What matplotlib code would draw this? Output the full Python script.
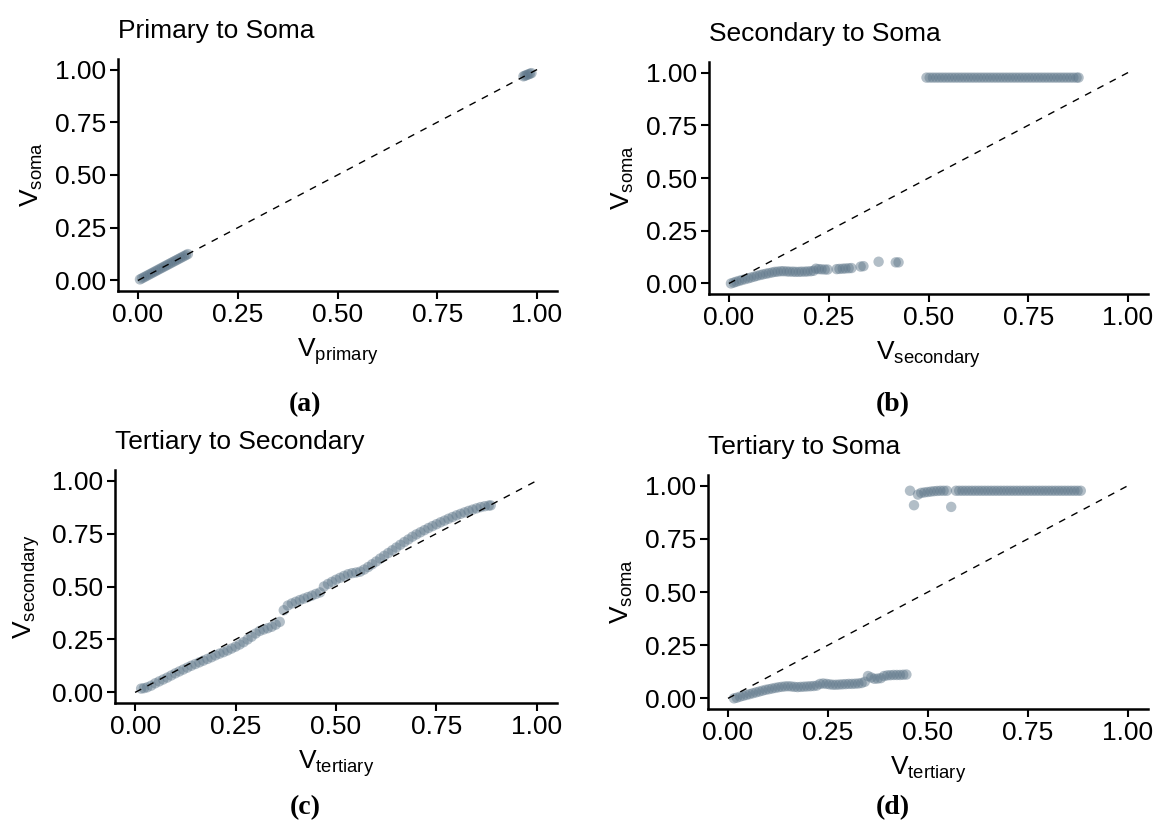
import numpy as np
import matplotlib
matplotlib.use("Agg")
import matplotlib.pyplot as plt

plt.rcParams['font.family'] = ['Liberation Sans', 'DejaVu Sans']
plt.rcParams['mathtext.default'] = 'regular'

# ---------------- data ----------------
# (a) Primary to Soma
a_x = [0.005, 0.010, 0.015, 0.020, 0.025, 0.030, 0.035, 0.040, 0.045, 0.050,
       0.055, 0.060, 0.065, 0.070, 0.075, 0.080, 0.085, 0.090, 0.095, 0.100,
       0.105, 0.110, 0.115, 0.120, 0.125, 0.966, 0.970, 0.974, 0.978, 0.982, 0.986]
a_y = [0.005, 0.010, 0.015, 0.020, 0.025, 0.030, 0.035, 0.040, 0.045, 0.050,
       0.055, 0.060, 0.065, 0.070, 0.075, 0.080, 0.085, 0.090, 0.095, 0.100,
       0.105, 0.110, 0.115, 0.120, 0.125, 0.968, 0.971, 0.974, 0.977, 0.980, 0.983]

# (b) Secondary to Soma
b_lo_x = [0.005, 0.012, 0.018, 0.025, 0.032, 0.040, 0.048, 0.055, 0.063, 0.070,
          0.078, 0.085, 0.093, 0.100, 0.108, 0.115, 0.122, 0.130, 0.137, 0.145,
          0.152, 0.160, 0.167, 0.175, 0.182, 0.190, 0.197, 0.205, 0.212, 0.218,
          0.225, 0.232, 0.240, 0.247, 0.270, 0.277, 0.285, 0.292, 0.300, 0.307,
          0.330, 0.337, 0.375, 0.418, 0.425]
b_lo_y = [0.000, 0.004, 0.008, 0.012, 0.016, 0.020, 0.024, 0.028, 0.032, 0.036,
          0.040, 0.043, 0.046, 0.049, 0.052, 0.055, 0.056, 0.058, 0.058, 0.057,
          0.056, 0.056, 0.055, 0.055, 0.056, 0.056, 0.057, 0.058, 0.060, 0.070,
          0.068, 0.067, 0.066, 0.066, 0.068, 0.069, 0.070, 0.071, 0.072, 0.073,
          0.080, 0.082, 0.103, 0.100, 0.100]
b_hi_x = [0.495, 0.503, 0.511, 0.519, 0.527, 0.535, 0.543, 0.551, 0.559, 0.567,
          0.575, 0.583, 0.591, 0.599, 0.607, 0.615, 0.623, 0.631, 0.639, 0.647,
          0.655, 0.663, 0.671, 0.679, 0.687, 0.695, 0.703, 0.711, 0.719, 0.727,
          0.735, 0.743, 0.751, 0.759, 0.767, 0.775, 0.783, 0.791, 0.799, 0.807,
          0.815, 0.823, 0.831, 0.839, 0.847, 0.855, 0.863, 0.871, 0.876]
b_hi_level = 0.976

# (c) Tertiary to Secondary
c_x = [0.015, 0.022, 0.030, 0.040, 0.050, 0.060, 0.070, 0.080, 0.090, 0.100,
       0.110, 0.120, 0.130, 0.140, 0.150, 0.160, 0.170, 0.180, 0.190, 0.200,
       0.210, 0.220, 0.230, 0.240, 0.250, 0.260, 0.270, 0.280, 0.290, 0.300,
       0.310, 0.320, 0.330, 0.340, 0.350, 0.360, 0.370, 0.380, 0.390, 0.400,
       0.410, 0.420, 0.430, 0.440, 0.450, 0.460, 0.470, 0.480, 0.490, 0.500,
       0.510, 0.520, 0.530, 0.540, 0.550, 0.560, 0.570, 0.580, 0.590, 0.600,
       0.610, 0.620, 0.630, 0.640, 0.650, 0.660, 0.670, 0.680, 0.690, 0.700,
       0.710, 0.720, 0.730, 0.740, 0.750, 0.760, 0.770, 0.780, 0.790, 0.800,
       0.810, 0.820, 0.830, 0.840, 0.850, 0.860, 0.870, 0.880, 0.885]
c_y = [0.018, 0.020, 0.024, 0.032, 0.043, 0.052, 0.061, 0.070, 0.080, 0.090,
       0.099, 0.108, 0.117, 0.126, 0.134, 0.142, 0.150, 0.158, 0.166, 0.175,
       0.183, 0.190, 0.198, 0.207, 0.216, 0.226, 0.237, 0.250, 0.263, 0.278,
       0.290, 0.297, 0.303, 0.310, 0.320, 0.333, 0.388, 0.410, 0.420, 0.428,
       0.436, 0.443, 0.450, 0.457, 0.465, 0.472, 0.500, 0.512, 0.522, 0.532,
       0.541, 0.550, 0.558, 0.563, 0.566, 0.570, 0.580, 0.592, 0.605, 0.618,
       0.632, 0.645, 0.658, 0.671, 0.684, 0.697, 0.710, 0.722, 0.735, 0.746,
       0.756, 0.766, 0.776, 0.785, 0.794, 0.803, 0.811, 0.820, 0.828, 0.836,
       0.843, 0.850, 0.857, 0.863, 0.869, 0.875, 0.879, 0.882, 0.883]

# (d) Tertiary to Soma
d_lo_x = [0.015, 0.022, 0.030, 0.038, 0.046, 0.054, 0.062, 0.070, 0.078, 0.086,
          0.094, 0.102, 0.110, 0.118, 0.126, 0.134, 0.142, 0.150, 0.158, 0.166,
          0.174, 0.182, 0.190, 0.198, 0.206, 0.214, 0.222, 0.230, 0.238, 0.246,
          0.254, 0.262, 0.270, 0.278, 0.286, 0.294, 0.302, 0.310, 0.318, 0.326,
          0.334, 0.342, 0.350, 0.358, 0.366, 0.374, 0.382, 0.390, 0.398, 0.406,
          0.414, 0.422, 0.430, 0.438, 0.446]
d_lo_y = [0.000, 0.003, 0.008, 0.012, 0.016, 0.020, 0.024, 0.028, 0.032, 0.036,
          0.040, 0.043, 0.046, 0.049, 0.052, 0.054, 0.056, 0.057, 0.056, 0.054,
          0.053, 0.054, 0.055, 0.056, 0.057, 0.058, 0.060, 0.068, 0.070, 0.068,
          0.066, 0.064, 0.064, 0.065, 0.066, 0.067, 0.068, 0.068, 0.069, 0.070,
          0.072, 0.078, 0.105, 0.098, 0.092, 0.093, 0.095, 0.105, 0.108, 0.109,
          0.110, 0.110, 0.110, 0.111, 0.112]
d_hi_x = [0.455, 0.465, 0.475, 0.483, 0.491, 0.499, 0.507, 0.515, 0.523, 0.531,
          0.539, 0.547, 0.558, 0.570, 0.578, 0.586, 0.594, 0.602, 0.610, 0.618,
          0.626, 0.634, 0.642, 0.650, 0.658, 0.666, 0.674, 0.682, 0.690, 0.698,
          0.706, 0.714, 0.722, 0.730, 0.738, 0.746, 0.754, 0.762, 0.770, 0.778,
          0.786, 0.794, 0.802, 0.810, 0.818, 0.826, 0.834, 0.842, 0.850, 0.858,
          0.866, 0.874, 0.882]
d_hi_y = [0.976, 0.908, 0.958, 0.966, 0.968, 0.970, 0.972, 0.974, 0.975, 0.976,
          0.976, 0.976, 0.900, 0.976, 0.976, 0.976, 0.976, 0.976, 0.976, 0.976,
          0.976, 0.976, 0.976, 0.976, 0.976, 0.976, 0.976, 0.976, 0.976, 0.976,
          0.976, 0.976, 0.976, 0.976, 0.976, 0.976, 0.976, 0.976, 0.976, 0.976,
          0.976, 0.976, 0.976, 0.976, 0.976, 0.976, 0.976, 0.976, 0.976, 0.976,
          0.976, 0.976, 0.976]

ticks = [0.00, 0.25, 0.50, 0.75, 1.00]
tick_labels = ["0.00", "0.25", "0.50", "0.75", "1.00"]

titles = ["Primary to Soma", "Secondary to Soma", "Tertiary to Secondary", "Tertiary to Soma"]
xlabels = ["V$_{primary}$", "V$_{secondary}$", "V$_{tertiary}$", "V$_{tertiary}$"]
ylabels = ["V$_{soma}$", "V$_{soma}$", "V$_{secondary}$", "V$_{soma}$"]
panel_tags = ["(a)", "(b)", "(c)", "(d)"]

# ---------------- figure ----------------
W, H = 1156, 834
fig = plt.figure(figsize=(W / 100, H / 100), dpi=100)

def px_axes(l, t, r, b):
    return fig.add_axes([l / W, 1 - b / H, (r - l) / W, (b - t) / H])

axes = [px_axes(118, 59, 557, 291),
        px_axes(709, 62, 1148, 294),
        px_axes(115, 470, 557, 703),
        px_axes(708, 475, 1148, 709)]

pt_color = '#5f778a'
datasets = [
    [(a_x, a_y)],
    [(b_lo_x, b_lo_y), (b_hi_x, np.full(len(b_hi_x), b_hi_level))],
    [(c_x, c_y)],
    [(d_lo_x, d_lo_y), (d_hi_x, d_hi_y)],
]

FS = 19
for i, ax in enumerate(axes):
    for xs, ys in datasets[i]:
        ax.scatter(xs, ys, s=56, color=pt_color, alpha=0.48, edgecolors='none', zorder=2)
    ax.plot([0, 1], [0, 1], color='black', lw=1.0, dashes=(5, 5), zorder=3)
    ax.set_xlim(-0.05, 1.05)
    ax.set_ylim(-0.05, 1.05)
    ax.set_xticks(ticks)
    ax.set_xticklabels(tick_labels)
    ax.set_yticks(ticks)
    ax.set_yticklabels(tick_labels)
    for side in ['top', 'right']:
        ax.spines[side].set_visible(False)
    for side in ['left', 'bottom']:
        ax.spines[side].set_linewidth(1.8)
    ax.tick_params(axis='both', length=5.5, width=1.5, labelsize=FS, pad=3, colors='black')
    ax.set_xlabel(xlabels[i], fontsize=FS, labelpad=7)
    ax.set_ylabel(ylabels[i], fontsize=FS, labelpad=7)
    ax.set_title(titles[i], fontsize=FS, loc='left', pad=15, x=0.0)

# panel tags
tag_pos = [(305, 405), (893, 405), (305, 808), (893, 808)]
for (x, y), tag in zip(tag_pos, panel_tags):
    fig.text(x / W, 1 - y / H, tag, ha='center', va='center', fontsize=20,
             fontweight='bold', family='Liberation Serif')

fig.savefig("out.png", dpi=100)
